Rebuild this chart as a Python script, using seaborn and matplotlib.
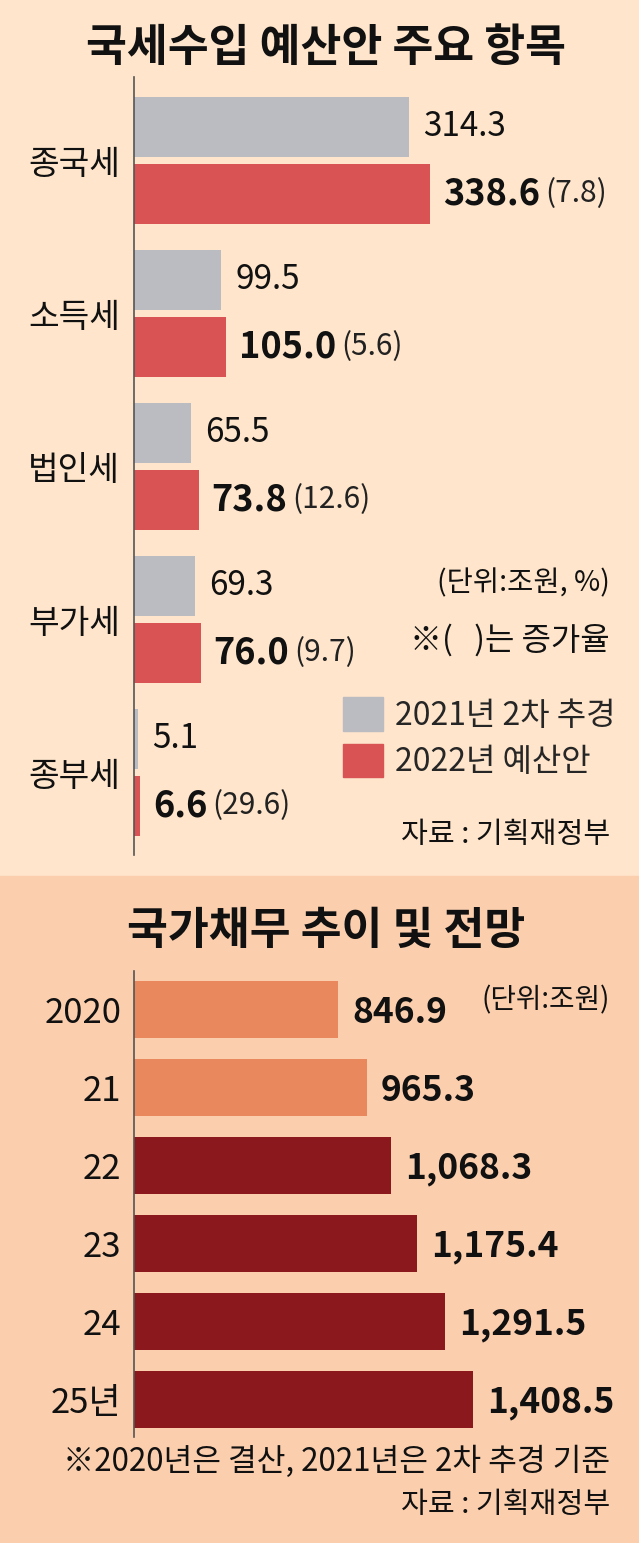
import matplotlib
matplotlib.use("Agg")
import matplotlib.pyplot as plt
import matplotlib.patches as mpatches
import seaborn as sns
import pandas as pd

# ---------------- data ----------------
tax_items = ["종국세", "소득세", "법인세", "부가세", "종부세"]
series_names = ["2021년 2차 추경", "2022년 예산안"]
values_2021 = [314.3, 99.5, 65.5, 69.3, 5.1]
values_2022 = [338.6, 105.0, 73.8, 76.0, 6.6]
growth_pct = ["7.8", "5.6", "12.6", "9.7", "29.6"]

debt_years = ["2020", "21", "22", "23", "24", "25년"]
debt_values = [846.9, 965.3, 1068.3, 1175.4, 1291.5, 1408.5]

title_top = "국세수입 예산안 주요 항목"
title_bottom = "국가채무 추이 및 전망"
unit_top = "(단위:조원, %)"
note_top = "※(   )는 증가율"
source = "자료 : 기획재정부"
unit_bottom = "(단위:조원)"
note_bottom = "※2020년은 결산, 2021년은 2차 추경 기준"

# ---------------- style ----------------
W, H = 639, 1543
sns.set_theme(style="white")
KR = "Noto Sans CJK KR"
plt.rcParams["font.family"] = [KR, "DejaVu Sans"]

BG_TOP = "#FEE5CB"
BG_BOT = "#FBCFAE"
GRAY = "#BBBCC1"
RED = "#D95254"
ORANGE = "#E9885C"
DARKRED = "#8A181D"
TXT = "#111111"

fig = plt.figure(figsize=(W / 100, H / 100), dpi=100)


def fx(x):
    return x / W


def fy(y):
    return 1 - y / H


def axes_px(left, top, right, bottom):
    return fig.add_axes([fx(left), fy(bottom), (right - left) / W, (bottom - top) / H])


# backgrounds
fig.patches.append(mpatches.Rectangle((0, fy(876)), 1, 876 / H, transform=fig.transFigure,
                                      color=BG_TOP, zorder=-10))
fig.patches.append(mpatches.Rectangle((0, 0), 1, fy(876), transform=fig.transFigure,
                                      color=BG_BOT, zorder=-10))

# ---------------- top chart ----------------
df_top = pd.DataFrame({
    "item": tax_items * 2,
    "value": values_2021 + values_2022,
    "series": [series_names[0]] * 5 + [series_names[1]] * 5,
})
ax1 = axes_px(134, 77, 639, 855)
ax1.set_facecolor("none")
sns.barplot(data=df_top, y="item", x="value", hue="series", order=tax_items,
            hue_order=series_names, palette=[GRAY, RED], saturation=1, orient="h",
            width=0.876, gap=0.104, linewidth=0, ax=ax1, legend=False)
ax1.set_xlim(0, 505 / 0.875)
ax1.set_ylim(4 + (855 - 772.5) / 153, -(160.5 - 77) / 153)
for s in ["top", "right", "bottom"]:
    ax1.spines[s].set_visible(False)
ax1.spines["left"].set_color("#555555")
ax1.spines["left"].set_linewidth(1.2)
ax1.set_xlabel("")
ax1.set_ylabel("")
ax1.set_xticks([])
ax1.tick_params(axis="y", length=0, pad=10)
for lab in ax1.get_yticklabels():
    lab.set_fontsize(24)
    lab.set_color(TXT)

c_gray, c_red = ax1.containers[0], ax1.containers[1]
for bar, v in zip(c_gray, values_2021):
    ax1.annotate(f"{v:.1f}", xy=(bar.get_width(), bar.get_y() + bar.get_height() / 2),
                 xytext=(14, 0), textcoords="offset pixels", va="center", ha="left",
                 fontsize=24, color=TXT)
for bar, v, g in zip(c_red, values_2022, growth_pct):
    t = ax1.annotate(f"{v:.1f}", xy=(bar.get_width(), bar.get_y() + bar.get_height() / 2),
                     xytext=(13, 0), textcoords="offset pixels", va="center", ha="left",
                     fontsize=26, fontweight="bold", color=TXT)
    ax1.annotate(f"({g})", xy=(1, 0.5), xycoords=t, xytext=(5, 0),
                 textcoords="offset pixels", va="center", ha="left",
                 fontsize=21.5, color="#222222")

fig.text(fx(326), fy(48), title_top, ha="center", va="center", fontsize=32,
         fontweight="bold", color=TXT)
fig.text(fx(610), fy(583), unit_top, ha="right", va="center", fontsize=20.5, color=TXT)
fig.text(fx(610), fy(640), note_top, ha="right", va="center", fontsize=23, color=TXT)
fig.text(fx(610), fy(835), source, ha="right", va="center", fontsize=21, color=TXT)

handles = [mpatches.Patch(color=GRAY, label=series_names[0]),
           mpatches.Patch(color=RED, label=series_names[1])]
fs_leg = 23
em = fs_leg * 100 / 72
fig.legend(handles=handles, loc="upper left", bbox_to_anchor=(fx(343), fy(697)),
           frameon=False, borderpad=0, borderaxespad=0,
           handlelength=40 / em, handleheight=40 / em, handletextpad=12 / em,
           labelspacing=(52 - 40) / em,
           prop={"family": KR, "size": fs_leg, "weight": "medium"})

# ---------------- bottom chart ----------------
df_bot = pd.DataFrame({"year": debt_years, "value": debt_values})
ax2 = axes_px(134, 971, 639, 1437)
ax2.set_facecolor("none")
sns.barplot(data=df_bot, y="year", x="value", hue="year", order=debt_years,
            palette=[ORANGE, ORANGE, DARKRED, DARKRED, DARKRED, DARKRED], saturation=1,
            orient="h", dodge=False, width=0.73, linewidth=0, ax=ax2, legend=False)
ax2.set_xlim(0, 505 / 0.2409)
ax2.set_ylim(5 + (1437 - 1399.5) / 78, -(1009.5 - 971) / 78)
for s in ["top", "right", "bottom"]:
    ax2.spines[s].set_visible(False)
ax2.spines["left"].set_color("#555555")
ax2.spines["left"].set_linewidth(1.2)
ax2.set_xlabel("")
ax2.set_ylabel("")
ax2.set_xticks([])
ax2.tick_params(axis="y", length=0, pad=9)
for lab in ax2.get_yticklabels():
    lab.set_fontsize(25)
    lab.set_color(TXT)

for cont in ax2.containers:
    for bar in cont:
        v = bar.get_width()
        if v != v or v == 0:
            continue
        ax2.annotate(f"{v:,.1f}", xy=(v, bar.get_y() + bar.get_height() / 2),
                     xytext=(14, -3), textcoords="offset pixels", va="center", ha="left",
                     fontsize=25.5, fontweight="bold", color=TXT)

fig.text(fx(326), fy(931), title_bottom, ha="center", va="center", fontsize=32,
         fontweight="bold", color=TXT)
fig.text(fx(610), fy(1000), unit_bottom, ha="right", va="center", fontsize=20, color=TXT)
fig.text(fx(610), fy(1462), note_bottom, ha="right", va="center", fontsize=22.5, color=TXT)
fig.text(fx(610), fy(1505), source, ha="right", va="center", fontsize=21, color=TXT)

fig.savefig("out.png", dpi=100, facecolor=BG_BOT)
